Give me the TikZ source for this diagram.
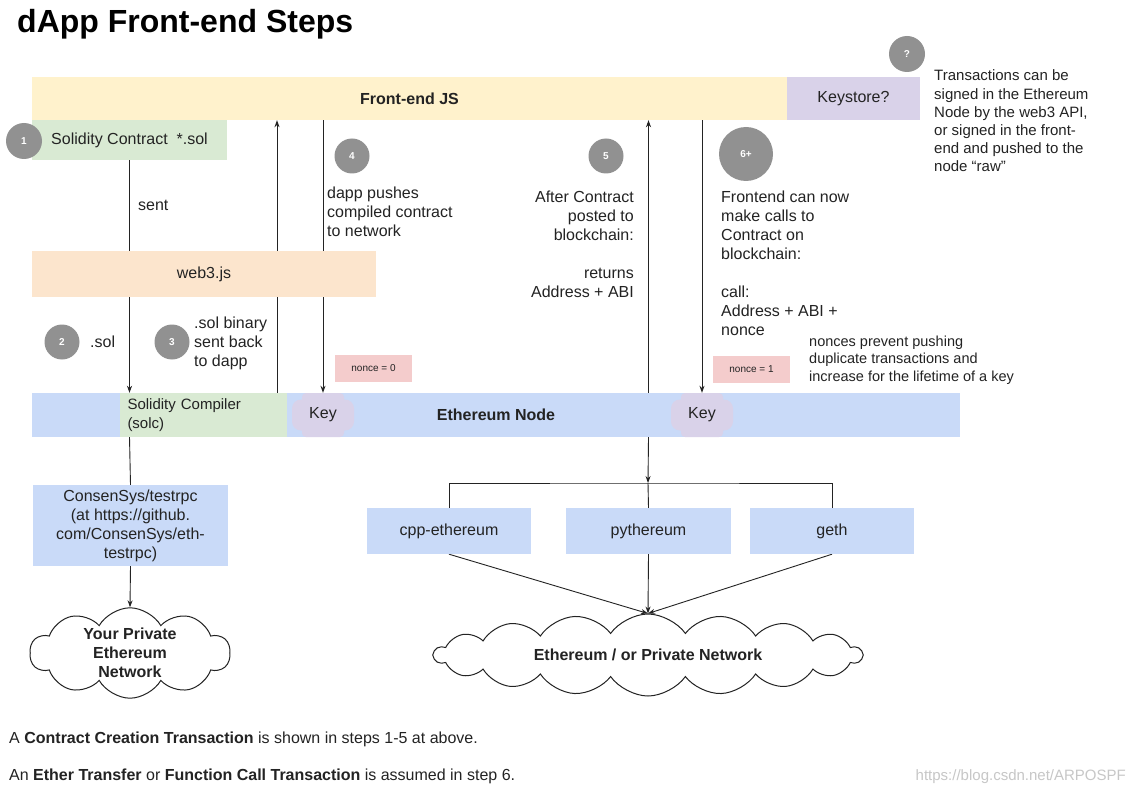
\documentclass[tikz,border=0pt]{standalone}
\usepackage{fontspec}
\setmainfont{Liberation Sans}
\usetikzlibrary{shapes.symbols,arrows.meta,backgrounds,calc}
\definecolor{fey}{RGB}{255,242,204}
\definecolor{lav}{RGB}{217,210,233}
\definecolor{grn}{RGB}{217,234,211}
\definecolor{org}{RGB}{252,229,205}
\definecolor{blu}{RGB}{201,218,248}
\definecolor{pnk}{RGB}{244,204,204}
\definecolor{ink}{RGB}{35,35,35}
\definecolor{cgray}{RGB}{145,145,145}
\begin{document}
\begin{tikzpicture}[x=1pt,y=-1pt,
  box/.style={rectangle, inner sep=0pt, text=ink, font=\fontsize{16}{19}\selectfont, align=center},
  num/.style={circle, fill=cgray, text=white, inner sep=0pt, minimum size=35pt, font=\fontsize{10}{12}\selectfont\bfseries},
  lbl/.style={text=ink, inner sep=0pt, font=\fontsize{16}{19}\selectfont},
  side/.style={text=ink, inner sep=0pt, font=\fontsize{15}{18.2}\selectfont, align=left},
  keywide/.style={rectangle, fill=lav, rounded corners=9pt, minimum width=62pt, minimum height=31pt, inner sep=0pt},
  keybox/.style={rectangle, fill=lav, rounded corners=4pt, minimum width=42pt, minimum height=44pt, inner sep=0pt, text=ink, font=\fontsize{16}{19}\selectfont},
  noncebox/.style={rectangle, fill=pnk, minimum width=77pt, minimum height=27pt, inner sep=0pt, text=ink, font=\fontsize{10}{12}\selectfont},
  cloudy/.style={cloud, cloud ignores aspect, draw=ink, line width=1pt, fill=white, cloud puffs=11, cloud puff arc=120, inner sep=0pt, text=ink, align=center, font=\fontsize{16}{19}\selectfont\bfseries},
  con/.style={draw=ink, line width=0.9pt},
  arr/.style={con, -{Stealth[length=7pt,width=5pt]}}
]
\useasboundingbox (0,0) rectangle (1131,794);

% title
\node[anchor=base west, inner sep=0pt, text=black, font=\fontsize{32}{38}\selectfont\bfseries] (title) at (17,33) {dApp Front-end Steps};

% main boxes
\node[box, fill=fey, minimum width=755pt, minimum height=43pt] (fe) at (409.5,98.5) {\textbf{Front-end JS}};
\node[box, fill=lav, minimum width=133pt, minimum height=43pt] (ks) at (853.5,98.5) {Keystore?};
\node[box, fill=grn, minimum width=195pt, minimum height=40pt] (sol) at (129.5,140) {Solidity Contract\ \ *.sol};
\node[box, fill=org, minimum width=344pt, minimum height=46pt] (web3) at (204,274) {web3.js};
\node[box, fill=blu, minimum width=928pt, minimum height=44pt] (eth) at (496,415) {\textbf{Ethereum Node}};
\node[box, fill=grn, minimum width=167pt, minimum height=44pt, text width=152pt, align=left, font=\fontsize{15}{19}\selectfont] (solc) at (203.5,415) {Solidity Compiler\\(solc)};
\node[keywide] (kw1) at (323,415) {};
\node[keybox] (key1) at (323,415) {Key};
\node[keywide] (kw2) at (702,415) {};
\node[keybox] (key2) at (702,415) {Key};
\node[noncebox] (nc0) at (373.5,368) {nonce = 0};
\node[noncebox] (nc1) at (751.5,369) {nonce = 1};
\node[box, fill=blu, minimum width=195pt, minimum height=81pt] (tr) at (130.5,525.5) {ConsenSys/testrpc\\(at https://github.\\com/ConsenSys/eth-\\testrpc)};
\node[box, fill=blu, minimum width=164pt, minimum height=46pt] (cpp) at (449,531) {cpp-ethereum};
\node[box, fill=blu, minimum width=165pt, minimum height=46pt] (py) at (648.5,531) {pythereum};
\node[box, fill=blu, minimum width=164pt, minimum height=46pt] (geth) at (832,531) {geth};

% clouds
\node[cloudy, cloud puffs=10, minimum width=200pt, minimum height=82pt] (cl1) at (130,653) {Your Private\\Ethereum\\Network};
\node[cloudy, cloud puffs=18, cloud puff arc=110, minimum width=428pt, minimum height=82pt] (cl2) at (648,655) {Ethereum / or Private Network};

% number circles
\node[num, minimum size=36pt] (n1) at (24,141) {1};
\node[num] (n2) at (62,342) {2};
\node[num] (n3) at (172,342) {3};
\node[num] (n4) at (352,156) {4};
\node[num] (n5) at (606,156) {5};
\node[num, minimum size=54pt] (n6) at (746,154) {6+};
\node[num, minimum size=36pt] (nq) at (907,54) {?};

% labels
\node[lbl, anchor=west] (tsent) at (138,205) {sent};
\node[lbl, anchor=west] (tsol) at (90,342) {.sol};
\node[lbl, anchor=west, align=left] (tbin) at (194,343) {.sol binary\\sent back\\to dapp};
\node[lbl, anchor=west, align=left] (tpush) at (327,212) {dapp pushes\\compiled contract\\to network};
\node[lbl, anchor=east, align=right] (tafter) at (634,244.5) {After Contract\\posted to\\blockchain:\\[19pt]returns\\Address + ABI};
\node[lbl, anchor=west, align=left] (tfront) at (721,263) {Frontend can now\\make calls to\\Contract on\\blockchain:\\[19pt]call:\\Address + ABI +\\nonce};
\node[side, anchor=west] (tside) at (934,121) {Transactions can be\\signed in the Ethereum\\Node by the web3 API,\\or signed in the front-\\end and pushed to the\\node “raw”};
\node[lbl, anchor=west, align=left, font=\fontsize{14.5}{17.5}\selectfont] (tnonce) at (809,360) {nonces prevent pushing\\duplicate transactions and\\increase for the lifetime of a key};
\node[lbl, anchor=base west] (foot1) at (9,743) {A \textbf{Contract Creation Transaction} is shown in steps 1-5 at above.};
\node[lbl, anchor=base west] (foot2) at (9,780) {An \textbf{Ether Transfer} or \textbf{Function Call Transaction} is assumed in step 6.};
\node[lbl, anchor=base east, text=black!22, font=\fontsize{15}{18}\selectfont] (wm) at (1126,780) {https://blog.csdn.net/ARPOSPF};

\coordinate (x3) at (277,0);
\coordinate (br) at (648,483);

\begin{pgfonlayer}{background}
\fill[white] (0,0) rectangle (1131,794);
\draw[con] (sol.south) -- (web3.north -| sol.south);
\draw[arr] (web3.south -| sol.south) -- (solc.north -| sol.south);
\draw[arr] (eth.north -| x3) -- (fe.south -| x3);
\draw[arr] (fe.south -| key1.north) -- (key1.north);
\draw[arr] (eth.north -| py.north) -- (fe.south -| py.north);
\draw[arr] (fe.south -| key2.north) -- (key2.north);
\draw[con] (solc.south -| sol.south) -- (tr.north);
\draw[arr] (tr.south) -- (cl1.north);
\draw[arr] (eth.south -| py.north) -- (br);
\draw[con] (br) -- (py.north);
\draw[con] (cpp.north) |- (br) -| (geth.north);
\draw[arr] (cpp.south) -- (cl2.north);
\draw[arr] (py.south) -- (cl2.north);
\draw[arr] (geth.south) -- (cl2.north);
\end{pgfonlayer}
\end{tikzpicture}
\end{document}
